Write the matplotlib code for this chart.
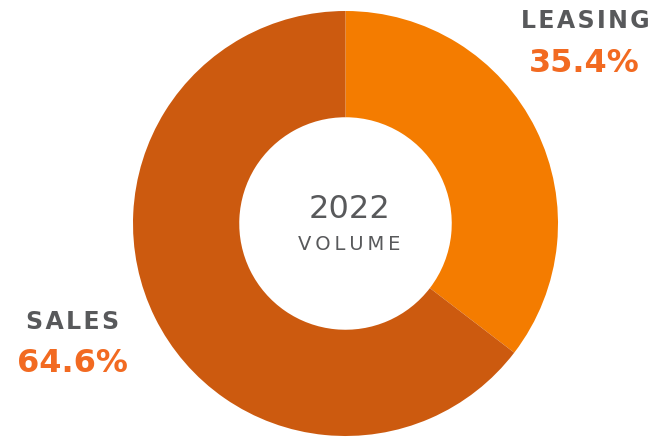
import matplotlib
matplotlib.use("Agg")
import matplotlib.pyplot as plt

labels = ["LEASING", "SALES"]
shares = [35.4, 64.6]
colors = ["#F47C00", "#CC5A0F"]
center_title = "2022"
center_sub = "VOLUME"


def spaced(s, gap="\u2009"):
    # fake letter spacing with narrow spaces
    return gap.join(s)


fig = plt.figure(figsize=(6.56, 4.37), dpi=100)
ax = fig.add_axes([0, 0, 1, 1])

cx, cy, r = 345.5, 437 - 223.5, 212.5
ax.pie(shares, colors=colors, startangle=90, counterclock=False,
       center=(cx, cy), radius=r,
       wedgeprops=dict(width=r * 0.5, linewidth=0))
ax.set_xlim(0, 656)
ax.set_ylim(0, 437)
ax.set_aspect("equal")
ax.axis("off")

gray = "#58595B"
orange = "#F26A21"

ax.text(cx + 4, 437 - 210, center_title, ha="center", va="center",
        fontsize=23, color=gray)
ax.text(cx + 4, 437 - 245, spaced(center_sub), ha="center", va="center",
        fontsize=14, color=gray)

ax.text(585, 437 - 21, spaced(labels[0], "\u200a"), ha="center", va="center",
        fontsize=17, fontweight="bold", color=gray)
ax.text(584, 437 - 63, f"{shares[0]}%", ha="center", va="center",
        fontsize=23, fontweight="bold", color=orange)

ax.text(73, 437 - 322, spaced(labels[1], "\u200a"), ha="center", va="center",
        fontsize=17, fontweight="bold", color=gray)
ax.text(72, 437 - 363, f"{shares[1]}%", ha="center", va="center",
        fontsize=23, fontweight="bold", color=orange)

fig.savefig("out.png", dpi=100)
